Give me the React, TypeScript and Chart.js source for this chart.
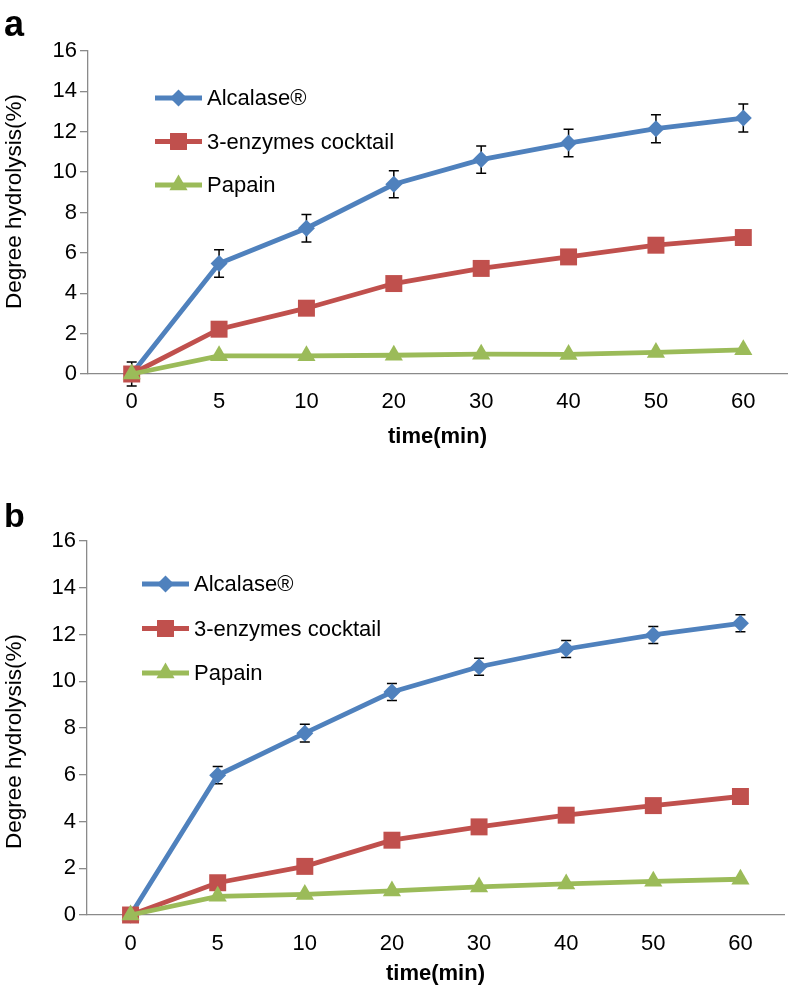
import React, { useEffect, useRef } from 'react';
import { Chart, registerables } from 'chart.js';

Chart.register(...registerables);

// ---------- data ----------
const timeLabels = ['0', '5', '10', '20', '30', '40', '50', '60'];
const seriesNames = ['Alcalase®', '3-enzymes cocktail', 'Papain'];
const xTitle = 'time(min)';
const yTitle = 'Degree hydrolysis(%)';

const alcalaseA = [0, 5.47, 7.22, 9.4, 10.62, 11.44, 12.15, 12.68];
const alcalaseErrA = [0.6, 0.68, 0.68, 0.67, 0.68, 0.68, 0.69, 0.69];
const cocktailA = [0, 2.22, 3.26, 4.48, 5.23, 5.8, 6.38, 6.76];
const papainA = [0, 0.9, 0.9, 0.93, 0.98, 0.97, 1.07, 1.2];

const alcalaseB = [0, 5.98, 7.78, 9.54, 10.62, 11.38, 11.98, 12.48];
const alcalaseErrB = [0, 0.37, 0.38, 0.36, 0.36, 0.36, 0.36, 0.36];
const cocktailB = [0, 1.38, 2.08, 3.2, 3.77, 4.27, 4.68, 5.07];
const papainB = [0, 0.8, 0.88, 1.03, 1.2, 1.33, 1.44, 1.53];

const yMin = 0;
const yMax = 16;
const yStep = 2;

// ---------- styles ----------
const FONT = '"Liberation Sans", Arial, Helvetica, sans-serif';
const AXIS = '#8a8a8a';
const COLORS = ['#4F81BD', '#C0504D', '#9BBB59'];
const STYLES = ['rectRot', 'rect', 'triangle'];
const RADII = [8.5, 12, 10.5];
const LINE_W = 4.8;

function drawMarker(ctx: CanvasRenderingContext2D, style: string, x: number, y: number, r: number) {
  ctx.beginPath();
  if (style === 'rectRot') {
    ctx.moveTo(x - r, y);
    ctx.lineTo(x, y - r);
    ctx.lineTo(x + r, y);
    ctx.lineTo(x, y + r);
  } else if (style === 'rect') {
    const s = Math.SQRT1_2 * r;
    ctx.rect(x - s, y - s, 2 * s, 2 * s);
  } else {
    const a = (2 * Math.PI) / 3;
    ctx.moveTo(x, y - r);
    ctx.lineTo(x + Math.sin(a) * r, y - Math.cos(a) * r);
    ctx.lineTo(x + Math.sin(2 * a) * r, y - Math.cos(2 * a) * r);
  }
  ctx.closePath();
  ctx.fill();
}

type PanelProps = {
  series: number[][];
  errors: number[];
  height: number;
  padRight: number;
  xScaleHeight: number;
  tickPad: number;
  titlePad: number;
  yAxisWidth: number;
  yTitleX: number;
  yTitleY: number;
  legendX: number;
  legendY: number;
  legendGap: number;
};

function Panel(props: PanelProps) {
  const ref = useRef<HTMLCanvasElement | null>(null);
  useEffect(() => {
    if (!ref.current) return;
    const { series, errors } = props;

    const errorBars = {
      id: 'errorBars',
      beforeDatasetsDraw(chart: any) {
        const ctx = chart.ctx as CanvasRenderingContext2D;
        const meta = chart.getDatasetMeta(0);
        const ys = chart.scales.y;
        ctx.save();
        ctx.strokeStyle = '#000';
        ctx.lineWidth = 1.5;
        meta.data.forEach((pt: any, i: number) => {
          const e = errors[i];
          if (!e) return;
          const v = series[0][i];
          const y1 = ys.getPixelForValue(v + e);
          const y2 = ys.getPixelForValue(v - e);
          const x = pt.x;
          ctx.beginPath();
          ctx.moveTo(x, y1);
          ctx.lineTo(x, y2);
          ctx.moveTo(x - 5, y1);
          ctx.lineTo(x + 5, y1);
          ctx.moveTo(x - 5, y2);
          ctx.lineTo(x + 5, y2);
          ctx.stroke();
        });
        ctx.restore();
      },
    };

    const extras = {
      id: 'extras',
      afterDraw(chart: any) {
        const ctx = chart.ctx as CanvasRenderingContext2D;
        ctx.save();
        // y-axis title
        ctx.translate(props.yTitleX, props.yTitleY);
        ctx.rotate(-Math.PI / 2);
        ctx.fillStyle = '#000';
        ctx.font = `22.5px ${FONT}`;
        ctx.textAlign = 'center';
        ctx.textBaseline = 'alphabetic';
        ctx.fillText(yTitle, 0, 0);
        ctx.restore();

        // legend inside the plot
        ctx.save();
        seriesNames.forEach((name, i) => {
          const y = props.legendY + i * props.legendGap;
          const x0 = props.legendX;
          const x1 = x0 + 47;
          ctx.strokeStyle = COLORS[i];
          ctx.lineWidth = LINE_W;
          ctx.beginPath();
          ctx.moveTo(x0, y);
          ctx.lineTo(x1, y);
          ctx.stroke();
          ctx.fillStyle = COLORS[i];
          drawMarker(ctx, STYLES[i], (x0 + x1) / 2, y, RADII[i]);
          ctx.fillStyle = '#000';
          ctx.font = `22px ${FONT}`;
          ctx.textBaseline = 'middle';
          ctx.textAlign = 'left';
          ctx.fillText(name, x1 + 5, y + 1);
        });
        ctx.restore();
      },
    };

    const order = [2, 1, 0];
    const chart = new Chart(ref.current, {
      type: 'line',
      data: {
        labels: timeLabels,
        datasets: series.map((d, i) => ({
          label: seriesNames[i],
          data: d,
          borderColor: COLORS[i],
          backgroundColor: COLORS[i],
          borderWidth: LINE_W,
          pointStyle: STYLES[i] as any,
          pointRadius: RADII[i],
          pointHoverRadius: RADII[i],
          pointBorderWidth: 0,
          pointBackgroundColor: COLORS[i],
          tension: 0,
          clip: false as any,
          order: order[i],
        })),
      },
      options: {
        animation: false,
        responsive: false,
        devicePixelRatio: 1,
        events: [],
        layout: { padding: { top: 51, right: props.padRight, left: 0, bottom: 0 } },
        plugins: { legend: { display: false }, tooltip: { enabled: false } },
        scales: {
          x: {
            type: 'category',
            offset: true,
            grid: { display: false, drawTicks: false },
            border: { display: true, color: AXIS, width: 1.3 },
            ticks: {
              font: { family: FONT, size: 22 },
              color: '#000',
              padding: props.tickPad,
              maxRotation: 0,
              autoSkip: false,
            },
            title: {
              display: true,
              text: xTitle,
              font: { family: FONT, size: 22, weight: 'bold' },
              color: '#000',
              padding: { top: 0, bottom: props.titlePad },
            },
            afterFit: (s: any) => {
              s.height = props.xScaleHeight;
            },
          },
          y: {
            min: yMin,
            max: yMax,
            ticks: {
              stepSize: yStep,
              font: { family: FONT, size: 22 },
              color: '#000',
              padding: 3,
            },
            grid: {
              display: true,
              drawOnChartArea: false,
              drawTicks: true,
              tickLength: 8,
              color: AXIS,
              lineWidth: 1.3,
            },
            border: { display: true, color: AXIS, width: 1.3 },
            title: { display: false },
            afterFit: (s: any) => {
              s.width = props.yAxisWidth;
            },
          },
        },
      } as any,
      plugins: [errorBars, extras],
    });
    return () => chart.destroy();
  }, []);
  return (
    <canvas
      ref={ref}
      width={799}
      height={props.height}
      style={{ display: 'block', width: 799, height: props.height }}
    />
  );
}

export default function App() {
  const letterStyle: React.CSSProperties = {
    position: 'absolute',
    left: 4,
    fontFamily: FONT,
    fontWeight: 'bold',
    color: '#000',
  };
  return (
    <div style={{ position: 'absolute', left: 0, top: 0, width: 799, height: 988, background: '#fff', overflow: 'hidden' }}>
      <div style={{ position: 'absolute', left: 0, top: 0 }}>
        <Panel
          series={[alcalaseA, cocktailA, papainA]}
          errors={alcalaseErrA}
          height={460}
          padRight={4}
          xScaleHeight={86}
          tickPad={15}
          titlePad={10}
          yAxisWidth={88}
          yTitleX={21}
          yTitleY={201.5}
          legendX={155}
          legendY={98}
          legendGap={43.5}
        />
      </div>
      <div style={{ position: 'absolute', left: 0, top: 490 }}>
        <Panel
          series={[alcalaseB, cocktailB, papainB]}
          errors={alcalaseErrB}
          height={498}
          padRight={15}
          xScaleHeight={73}
          tickPad={16}
          titlePad={1}
          yAxisWidth={87}
          yTitleX={21}
          yTitleY={251.5}
          legendX={142}
          legendY={94}
          legendGap={44.5}
        />
      </div>
      <div style={{ ...letterStyle, top: 5.5, fontSize: 36, lineHeight: '36px' }}>a</div>
      <div style={{ ...letterStyle, top: 498, fontSize: 34, lineHeight: '34px' }}>b</div>
    </div>
  );
}
